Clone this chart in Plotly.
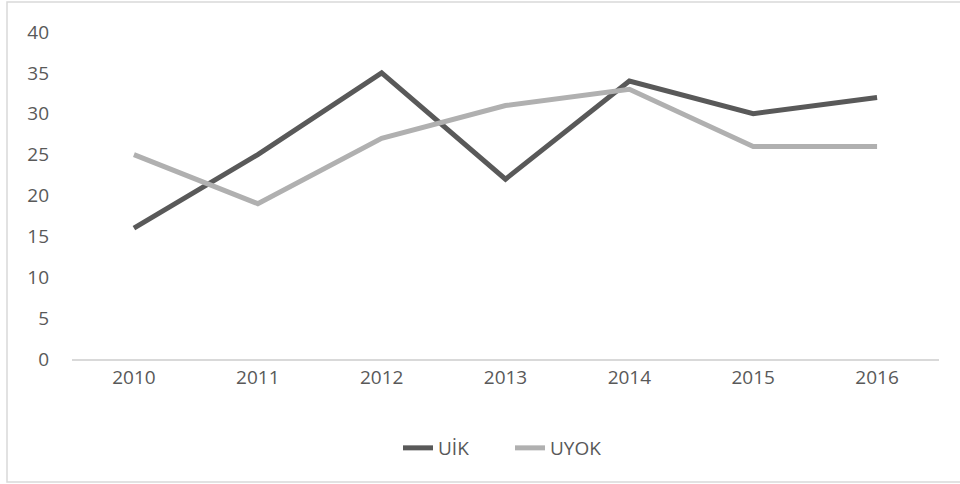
import plotly.graph_objects as go

years = ["2010", "2011", "2012", "2013", "2014", "2015", "2016"]
uik = [16, 25, 35, 22, 34, 30, 32]
uyok = [25, 19, 27, 31, 33, 26, 26]
y_ticks = [0, 5, 10, 15, 20, 25, 30, 35, 40]

W, H = 960, 484
L, R, T, B = 72, 21, 32, 125
pw, ph = W - L - R, H - T - B

def px_x(x):
    return (x - L) / pw

def px_y(y):
    return (H - B - y) / ph

FONT = "Open Sans"
TXT = "#595959"
FS = 19

fig = go.Figure()
fig.add_trace(go.Scatter(x=years, y=uik, mode="lines", name="UİK",
                         line=dict(color="#595959", width=5)))
fig.add_trace(go.Scatter(x=years, y=uyok, mode="lines", name="UYOK",
                         line=dict(color="#b0b0b0", width=5)))

fig.update_layout(
    width=W, height=H,
    margin=dict(l=L, r=R, t=T, b=B),
    paper_bgcolor="white", plot_bgcolor="white",
    font=dict(family=FONT, size=FS, color=TXT),
    showlegend=True,
    legend=dict(orientation="h", x=px_x(398), xanchor="left",
                y=px_y(448), yanchor="middle",
                font=dict(family=FONT, size=FS, color=TXT),
                entrywidth=67, entrywidthmode="pixels",
                itemwidth=30, tracegroupgap=0),
    xaxis=dict(type="category", range=[-0.5, 6.5], showgrid=False,
               showline=True, linecolor="#d9d9d9", linewidth=2,
               ticks="", zeroline=False, fixedrange=True,
               tickfont=dict(family=FONT, size=FS, color=TXT)),
    yaxis=dict(range=[0, 40], tickvals=y_ticks, showgrid=False,
               showline=False, zeroline=False, ticks="",
               ticklabelstandoff=22, fixedrange=True,
               tickfont=dict(family=FONT, size=FS, color=TXT)),
    shapes=[dict(type="rect", xref="paper", yref="paper",
                 x0=px_x(7), x1=px_x(975), y0=px_y(482), y1=px_y(2),
                 line=dict(color="#d9d9d9", width=1.5), fillcolor="rgba(0,0,0,0)",
                 layer="below")],
)

fig.write_html("out.html", config={"displayModeBar": False},
               post_script="document.body.style.margin='0';")
